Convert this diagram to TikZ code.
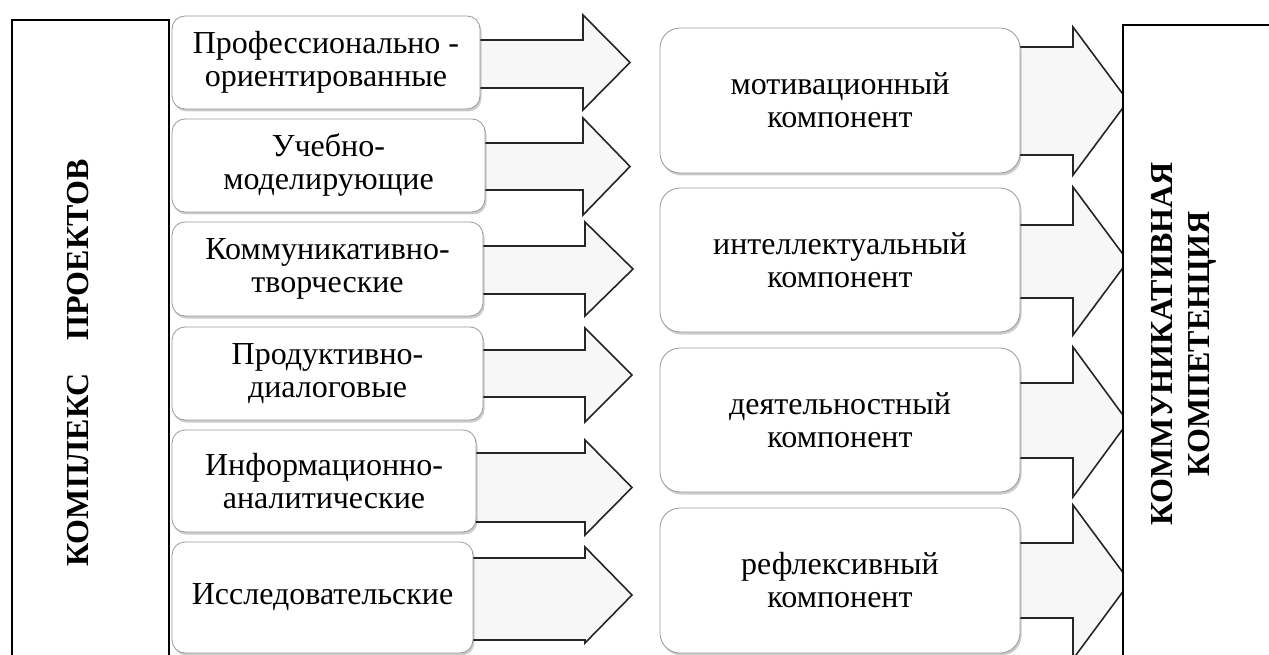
\documentclass[tikz,border=0pt]{standalone}
\usepackage{fontspec}
\setmainfont{Liberation Serif}
\usetikzlibrary{shadows,backgrounds}
\newcommand\barrow[7]{%
  \draw[blockarr] (#1.center |- 0,#4) -- (#2,#4) -- (#2,#6) -- (#3,{(#6+#7)/2})
    -- (#2,#7) -- (#2,#5) -- (#1.center |- 0,#5) -- cycle;}
\begin{document}
\begin{tikzpicture}[x=1pt,y=-1pt,
  src/.style={draw=black!40, line width=0.8pt, rounded corners=13pt, fill=white,
    inner sep=0pt, align=center, font=\fontsize{32}{33}\selectfont,
    drop shadow={shadow xshift=1.5pt, shadow yshift=-2.5pt, opacity=0.2, fill=black}},
  comp/.style={src, rounded corners=20pt, minimum width=360pt},
  bigframe/.style={draw=black, line width=1.6pt, fill=white, inner sep=0pt},
  blockarr/.style={draw=black!85, line width=1.6pt, fill=black!3, line join=miter},
  vtitle/.style={font=\bfseries\fontsize{32}{37}\selectfont, align=center, rotate=90, inner sep=0pt}
]
\useasboundingbox (0,0) rectangle (1269,655);

% left frame
\node[bigframe, minimum width=157pt, minimum height=690pt, anchor=north west] (kf) at (11,19) {};
\node[vtitle] (kt) at (78,363) {КОМПЛЕКС\hspace{33pt}ПРОЕКТОВ};

% right frame
\node[bigframe, minimum width=200pt, minimum height=690pt, anchor=north west] (kk) at (1122,24) {};
\node[vtitle] (kkt) at (1184,344) {КОММУНИКАТИВНАЯ\\КОМПЕТЕНЦИЯ};

% left column
\node[src, minimum width=308pt, minimum height=93pt] (p1) at (326,62.5) {Профессионально -\\ориентированные};
\node[src, minimum width=313pt, minimum height=93pt] (p2) at (328.5,165.5) {Учебно-\\моделирующие};
\node[src, minimum width=311pt, minimum height=94pt] (p3) at (327.5,269) {Коммуникативно-\\творческие};
\node[src, minimum width=311pt, minimum height=93pt] (p4) at (327.5,373.5) {Продуктивно-\\диалоговые};
\node[src, minimum width=304pt, minimum height=102pt] (p5) at (324,481) {Информационно-\\аналитические};
\node[src, minimum width=301pt, minimum height=111pt] (p6) at (322.5,597.5) {Исследовательские};

% middle column
\node[comp, minimum height=145pt] (m1) at (840,100.5) {мотивационный\\компонент};
\node[comp, minimum height=144pt] (m2) at (840,260) {интеллектуальный\\компонент};
\node[comp, minimum height=144pt] (m3) at (840,420) {деятельностный\\компонент};
\node[comp, minimum height=145pt] (m4) at (840,580.5) {рефлексивный\\компонент};

\begin{scope}[on background layer]
\fill[white] (0,0) rectangle (1269,655);
\barrow{p1}{583}{630}{40}{88}{15}{110}
\barrow{p2}{583}{630}{143}{190}{118}{215}
\barrow{p3}{585}{633}{246}{294}{222}{316}
\barrow{p4}{585}{632}{350}{397}{328}{422}
\barrow{p5}{585}{632}{453}{522}{440}{535}
\barrow{p6}{585}{632}{558}{640}{547}{643}
\barrow{m1}{1073}{1128}{47}{155}{27}{175}
\barrow{m2}{1073}{1128}{225}{298}{187}{335}
\barrow{m3}{1073}{1128}{383}{458}{347}{497}
\barrow{m4}{1073}{1130}{543}{618}{505}{659}
\end{scope}
\end{tikzpicture}
\end{document}
